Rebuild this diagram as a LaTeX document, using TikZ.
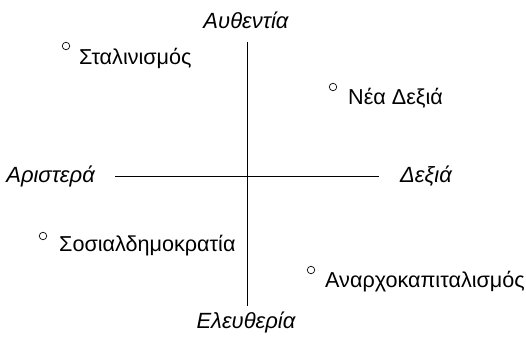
\documentclass[tikz,border=0pt]{standalone}
\usepackage{fontspec}
\setmainfont{Liberation Sans}
\usetikzlibrary{positioning}

\begin{document}
\begin{tikzpicture}[
  x=1pt, y=-1pt,
  every node/.style={font=\fontsize{21.6}{25}\selectfont},
  axislabel/.style={font=\fontsize{22}{26}\selectfont\itshape, inner sep=0pt},
  axisline/.style={line width=0.8pt, draw=black},
  dot/.style={circle, draw=black, line width=0.7pt, minimum size=7.5pt, inner sep=0pt},
  dotlabel/.style={anchor=west, inner sep=0pt},
]
\useasboundingbox (0,0) rectangle (526,339);

% axes
\coordinate (top) at (247,42);
\coordinate (bottom) at (247,306);
\coordinate (left) at (115,176);
\coordinate (right) at (379,176);
\draw[axisline] (top) -- (bottom);
\draw[axisline] (left) -- (right);

\node[axislabel] (authority) at (246,20) {Αυθεντία};
\node[axislabel] (freedom) at (246,322) {Ελευθερία};
\node[axislabel, anchor=east] (leftlabel) at (95,176) {Αριστερά};
\node[axislabel, anchor=west] (rightlabel) at (400,176) {Δεξιά};

% positions
\node[dot] (stalin) at (66,46) {};
\node[dotlabel] (stalinlabel) at (79,58) {Σταλινισμός};
\node[dot] (newright) at (333,87) {};
\node[dotlabel] (newrightlabel) at (348,98) {Νέα Δεξιά};
\node[dot] (socdem) at (43,236) {};
\node[dotlabel] (socdemlabel) at (59,246) {Σοσιαλδημοκρατία};
\node[dot] (ancap) at (311,270) {};
\node[dotlabel] (ancaplabel) at (325,282) {Αναρχοκαπιταλισμός};
\end{tikzpicture}
\end{document}
